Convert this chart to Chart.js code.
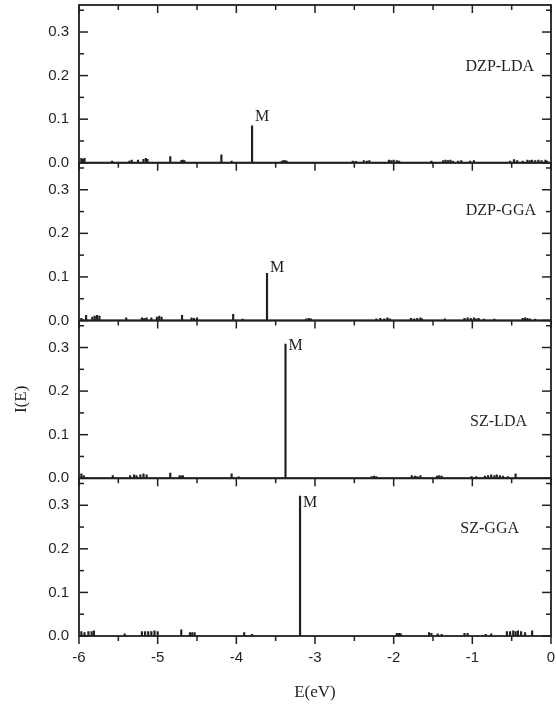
<!DOCTYPE html>
<html>
<head>
<meta charset="utf-8">
<script src="https://cdn.jsdelivr.net/npm/chart.js@4/dist/chart.umd.min.js"></script>
<style>
  html, body { margin: 0; padding: 0; background: #fff; }
  #wrap { width: 556px; height: 707px; position: relative; }
</style>
</head>
<body>
<div id="wrap"><canvas id="c" width="556" height="707"></canvas></div>
<script>
// ---------------- data ----------------
const panelNames = ['DZP-LDA', 'DZP-GGA', 'SZ-LDA', 'SZ-GGA'];
const xTickValues = [-6, -5, -4, -3, -2, -1, 0];
const yTickValues = [0.0, 0.1, 0.2, 0.3];
const peakLabel = 'M';

const dzpLdaE = [-5.97,-5.95,-5.93,-5.58,-5.36,-5.33,-5.25,-5.18,-5.15,-5.13,-4.84,-4.70,-4.68,-4.66,-4.19,-4.06,-3.80,
  -3.42,-3.40,-3.38,-3.36,-2.52,-2.48,-2.38,-2.34,-2.31,-2.06,-2.03,-2.00,-1.96,-1.93,-1.52,-1.37,-1.34,-1.31,-1.28,-1.25,
  -1.18,-1.14,-1.03,-0.98,-0.52,-0.47,-0.43,-0.36,-0.30,-0.27,-0.24,-0.20,-0.16,-0.12,-0.07,-0.05];
const dzpLdaI = [0.010,0.008,0.010,0.004,0.004,0.006,0.006,0.008,0.010,0.008,0.014,0.005,0.006,0.005,0.018,0.004,0.085,
  0.004,0.005,0.005,0.004,0.004,0.003,0.005,0.004,0.005,0.006,0.005,0.006,0.005,0.004,0.004,0.005,0.006,0.005,0.006,0.004,
  0.004,0.005,0.004,0.005,0.004,0.007,0.005,0.004,0.006,0.005,0.006,0.005,0.006,0.005,0.006,0.004];

const dzpGgaE = [-5.97,-5.91,-5.83,-5.80,-5.77,-5.74,-5.40,-5.20,-5.17,-5.14,-5.08,-5.01,-4.98,-4.95,-4.69,-4.57,-4.54,-4.50,
  -4.04,-3.92,-3.61,-3.11,-3.08,-3.05,-2.22,-2.17,-2.12,-2.08,-2.05,-1.78,-1.74,-1.70,-1.66,-1.64,-1.35,-1.10,-1.06,-1.02,
  -0.98,-0.95,-0.92,-0.85,-0.72,-0.36,-0.33,-0.30,-0.27,-0.20];
const dzpGgaI = [0.005,0.012,0.008,0.010,0.012,0.010,0.006,0.006,0.005,0.006,0.006,0.008,0.010,0.008,0.012,0.006,0.005,0.006,
  0.014,0.003,0.108,0.004,0.005,0.004,0.004,0.005,0.004,0.006,0.004,0.005,0.004,0.005,0.006,0.004,0.004,0.005,0.006,0.005,
  0.006,0.004,0.005,0.003,0.003,0.005,0.006,0.005,0.004,0.003];

const szLdaE = [-5.97,-5.94,-5.57,-5.35,-5.30,-5.27,-5.22,-5.18,-5.14,-4.84,-4.72,-4.70,-4.68,-4.06,-3.97,-3.375,
  -2.28,-2.25,-2.22,-1.77,-1.73,-1.70,-1.66,-1.45,-1.42,-1.39,-1.01,-0.95,-0.84,-0.80,-0.76,-0.72,-0.69,-0.65,-0.61,-0.55,-0.45];
const szLdaI = [0.010,0.006,0.006,0.006,0.008,0.006,0.008,0.010,0.008,0.012,0.006,0.005,0.006,0.010,0.003,0.308,
  0.004,0.005,0.004,0.006,0.005,0.004,0.006,0.005,0.006,0.005,0.004,0.004,0.005,0.006,0.008,0.006,0.008,0.006,0.005,0.004,0.010];

const szGgaE = [-5.97,-5.93,-5.88,-5.84,-5.81,-5.42,-5.20,-5.16,-5.12,-5.08,-5.04,-5.00,-4.70,-4.59,-4.56,-4.53,-3.90,-3.80,-3.19,
  -1.96,-1.93,-1.91,-1.55,-1.52,-1.44,-1.39,-1.10,-1.06,-0.83,-0.76,-0.56,-0.52,-0.48,-0.45,-0.42,-0.38,-0.33,-0.24];
const szGgaI = [0.010,0.008,0.010,0.010,0.012,0.005,0.010,0.010,0.010,0.010,0.012,0.010,0.014,0.008,0.008,0.008,0.008,0.004,0.321,
  0.006,0.006,0.005,0.008,0.006,0.005,0.004,0.006,0.006,0.004,0.005,0.010,0.010,0.012,0.010,0.012,0.010,0.008,0.012];

const seriesE = [dzpLdaE, dzpGgaE, szLdaE, szGgaE];
const seriesI = [dzpLdaI, dzpGgaI, szLdaI, szGgaI];

// ---------------- styling ----------------
const INK = '#231f20';
const SANS = "'Liberation Sans', Arial, sans-serif";
const SERIF = "'Liberation Serif', 'Times New Roman', serif";
const Y_MAX = 0.362;
const panelIds = ['y1', 'y2', 'y3', 'y4'];
// annotation placement (pixels / values), not data
const nameLabelPos = [{right: 534, y: 0.22}, {right: 536, y: 0.252}, {right: 527, y: 0.13}, {right: 519, y: 0.245}];
const mLabelY = [0.105, 0.122, 0.303, 0.305];

const datasets = panelIds.map((id, i) => ({
  type: 'bar',
  label: panelNames[i],
  yAxisID: id,
  xAxisID: 'x',
  data: seriesE[i].map((e, k) => ({x: e, y: seriesI[i][k]})),
  backgroundColor: INK,
  borderWidth: 0,
  barThickness: 1.5,
  grouped: false
}));

const yScale = (i) => ({
  type: 'linear',
  position: 'left',
  stack: 'panels',
  stackWeight: 1,
  offset: false,
  min: 0,
  max: Y_MAX,
  afterBuildTicks: (s) => { s.ticks = yTickValues.map(v => ({value: v})); },
  afterFit: (s) => { s.width = 79; s.paddingTop = 0; s.paddingBottom = 0; },
  grid: { display: false, drawTicks: false, offset: false },
  border: { display: false },
  ticks: {
    padding: 10,
    color: INK,
    font: { family: SANS, size: 15 },
    callback: (v) => Number(v).toFixed(1)
  },
  title: {
    display: i === 2,
    text: 'I(E)',
    color: INK,
    font: { family: SERIF, size: 17 },
    padding: { top: 11, bottom: 0 }
  }
});

const scales = {
  x: {
    type: 'linear',
    position: 'bottom',
    offset: false,
    min: -6,
    max: 0,
    afterBuildTicks: (s) => { s.ticks = xTickValues.map(v => ({value: v})); },
    afterFit: (s) => { s.height = 71; s.paddingLeft = 0; s.paddingRight = 0; },
    grid: { display: false, drawTicks: false, offset: false },
    border: { display: false },
    ticks: {
      padding: 13,
      color: INK,
      maxRotation: 0,
      font: { family: SANS, size: 15 },
      callback: (v) => String(v)
    },
    title: {
      display: true,
      text: 'E(eV)',
      color: INK,
      font: { family: SERIF, size: 17 },
      padding: { top: 0, bottom: 4 }
    }
  }
};
// stacked axes are laid out bottom-up, so insert the lowest panel first
panelIds.slice().reverse().forEach((id) => { scales[id] = yScale(panelIds.indexOf(id)); });

const framePlugin = {
  id: 'frame',
  afterDatasetsDraw(chart) {
    const ctx = chart.ctx, ca = chart.chartArea, xs = chart.scales.x;
    const line = (x1, y1, x2, y2) => { ctx.beginPath(); ctx.moveTo(x1, y1); ctx.lineTo(x2, y2); ctx.stroke(); };
    ctx.save();
    ctx.strokeStyle = INK;
    const xMinor = xTickValues.slice(0, -1).map(v => v + 0.5);
    const yMinor = yTickValues.map(v => v + 0.05);
    panelIds.forEach((id, i) => {
      const ys = chart.scales[id];
      ctx.lineWidth = 1.8;
      ctx.strokeRect(ca.left, ys.top, ca.right - ca.left, ys.bottom - ys.top);
      ctx.lineWidth = 1.5;
      yTickValues.forEach(v => {
        const p = ys.getPixelForValue(v);
        line(ca.left, p, ca.left + 9, p);
        line(ca.right, p, ca.right - 9, p);
      });
      yMinor.forEach(v => {
        const p = ys.getPixelForValue(v);
        line(ca.left, p, ca.left + 5, p);
        line(ca.right, p, ca.right - 5, p);
      });
      xTickValues.forEach(v => {
        const p = xs.getPixelForValue(v);
        line(p, ys.bottom, p, ys.bottom + 8);
        if (i === 0) line(p, ys.top, p, ys.top + 8);
      });
      xMinor.forEach(v => {
        const p = xs.getPixelForValue(v);
        line(p, ys.bottom, p, ys.bottom + 5);
        if (i === 0) line(p, ys.top, p, ys.top + 5);
      });
      // panel name
      ctx.fillStyle = INK;
      ctx.font = '16px ' + SERIF;
      ctx.textAlign = 'right';
      ctx.textBaseline = 'middle';
      ctx.fillText(panelNames[i], nameLabelPos[i].right, ys.getPixelForValue(nameLabelPos[i].y));
      // peak label M next to the tallest line
      const E = seriesE[i], I = seriesI[i];
      let k = 0; I.forEach((v, j) => { if (v > I[k]) k = j; });
      ctx.textAlign = 'left';
      ctx.fillText(peakLabel, xs.getPixelForValue(E[k]) + 3, ys.getPixelForValue(mLabelY[i]));
    });
    ctx.restore();
  }
};

new Chart(document.getElementById('c'), {
  type: 'bar',
  data: { datasets },
  options: {
    responsive: false,
    animation: false,
    events: [],
    layout: { padding: { top: 5, right: 5, left: 0, bottom: 0 } },
    plugins: { legend: { display: false }, tooltip: { enabled: false } },
    scales
  },
  plugins: [framePlugin]
});
</script>
</body>
</html>
